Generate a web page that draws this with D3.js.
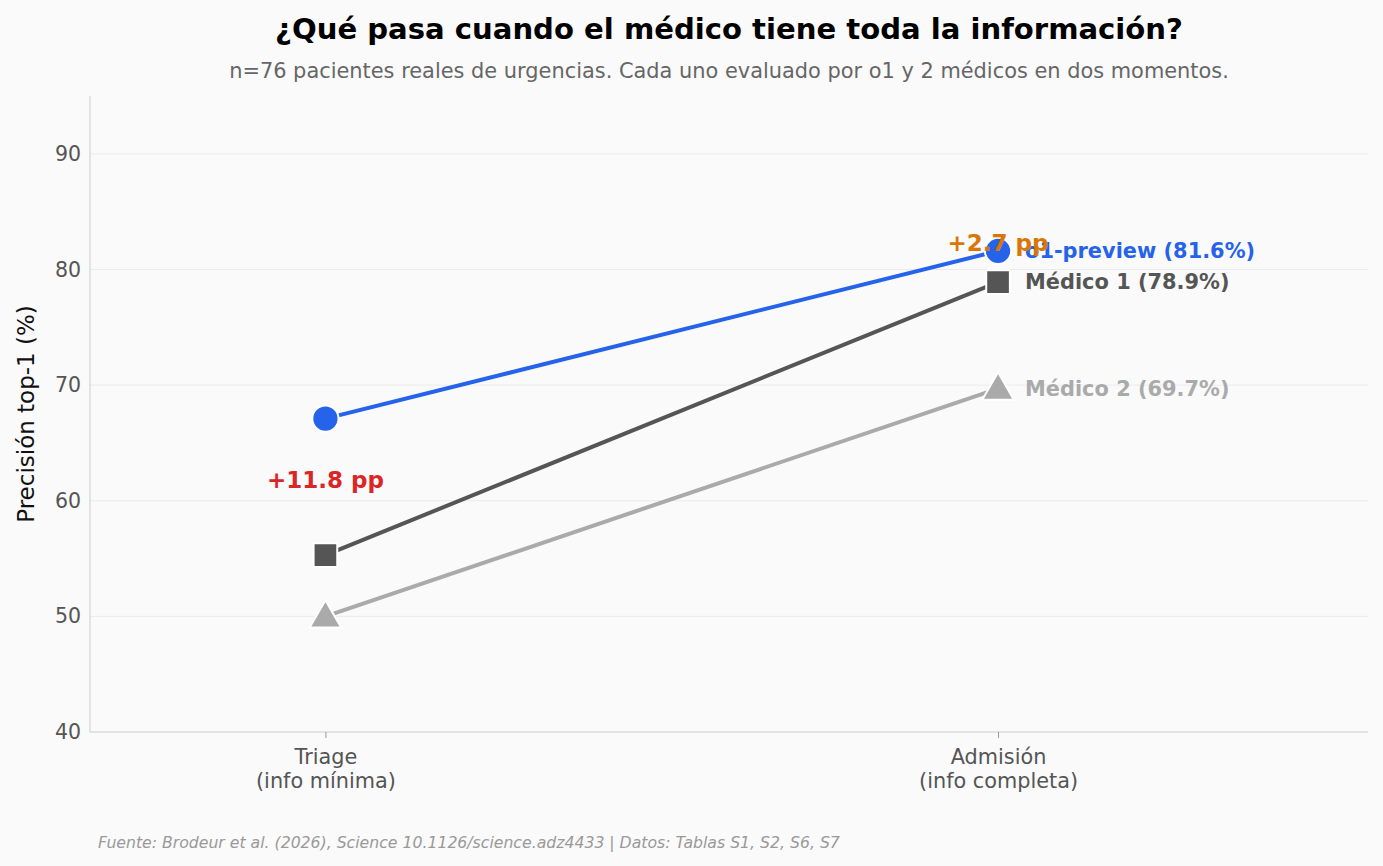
<!DOCTYPE html>
<html><head><meta charset="utf-8">
<script src="https://cdn.jsdelivr.net/npm/d3@7"></script>
<style>
html,body{margin:0;padding:0;background:#fafafa;}
svg{display:block;font-family:"DejaVu Sans",sans-serif;}
</style></head>
<body><svg id="chart" width="1383" height="866"></svg>
<script>
const categories = ["Triage\n(info mínima)", "Admisión\n(info completa)"];
const seriesNames = ["o1-preview", "Médico 1", "Médico 2"];
const o1Values = [67.1, 81.6];
const medico1Values = [55.3, 78.9];
const medico2Values = [50.0, 69.7];
const yTicks = [40, 50, 60, 70, 80, 90];
const gapLabels = ["+11.8 pp", "+2.7 pp"];

const colors = ["#2563eb", "#555555", "#aaaaaa"];
const symbols = [d3.symbolCircle, d3.symbolSquare, d3.symbolTriangle];
const symSizes = [540, 560, 430];
const series = [o1Values, medico1Values, medico2Values];

const svg = d3.select("#chart");
const W = 1383, H = 866;
svg.append("rect").attr("width", W).attr("height", H).attr("fill", "#fafafa");
const m = {left: 90, right: 1368, top: 96, bottom: 732};

const x = d3.scaleLinear().domain([-0.35, 1.55]).range([m.left, m.right]);
const y = d3.scaleLinear().domain([40, 95]).range([m.bottom, m.top]);

// grid
svg.append("g").selectAll("line").data(yTicks.slice(1)).join("line")
  .attr("x1", m.left).attr("x2", m.right)
  .attr("y1", d => y(d)).attr("y2", d => y(d))
  .attr("stroke", "#ebebeb").attr("stroke-width", 1);

// axes
const yAxis = svg.append("g").attr("transform", `translate(${m.left},0)`)
  .call(d3.axisLeft(y).tickValues(yTicks).tickSize(0).tickPadding(9));
yAxis.select(".domain").attr("stroke", "#cccccc").attr("d", `M0,${m.top}V${m.bottom}`);
yAxis.selectAll("text").attr("font-size", 20.5).attr("fill", "#555").attr("font-family", "DejaVu Sans");

const xAxis = svg.append("g").attr("transform", `translate(0,${m.bottom})`)
  .call(d3.axisBottom(x).tickValues([0, 1]).tickSize(6).tickFormat(() => ""));
xAxis.select(".domain").attr("stroke", "#cccccc").attr("d", `M${m.left},0H${m.right}`);
xAxis.selectAll(".tick line").attr("stroke", "#999");
xAxis.selectAll(".tick").each(function(d, i) {
  const t = d3.select(this).append("text").attr("fill", "#555").attr("font-size", 20.8)
    .attr("text-anchor", "middle").attr("font-family", "DejaVu Sans");
  categories[i].split("\n").forEach((ln, j) => {
    t.append("tspan").attr("x", 0).attr("y", 32 + j * 23.5).text(ln);
  });
});

// y label
svg.append("text").attr("transform", `translate(34,${(m.top + m.bottom) / 2}) rotate(-90)`)
  .attr("text-anchor", "middle").attr("font-size", 23).attr("fill", "#111")
  .text("Precisión top-1 (%)");

// lines
const line = d3.line().x((d, i) => x(i)).y(d => y(d));
series.forEach((s, k) => {
  svg.append("path").datum(s).attr("d", line).attr("fill", "none")
    .attr("stroke", colors[k]).attr("stroke-width", 4);
});
// markers
series.forEach((s, k) => {
  svg.append("g").selectAll("path").data(s).join("path")
    .attr("transform", (d, i) => `translate(${x(i)},${y(d) + (k === 2 ? 2 : 0)})`)
    .attr("d", d3.symbol().type(symbols[k]).size(symSizes[k]))
    .attr("fill", colors[k]).attr("stroke", "#fff").attr("stroke-width", 2);
});
// end labels
series.forEach((s, k) => {
  svg.append("text").attr("x", x(1) + 27).attr("y", y(s[1])).attr("dy", "0.35em")
    .attr("font-size", 20.9).attr("font-weight", "bold").attr("fill", colors[k])
    .text(`${seriesNames[k]} (${s[1].toFixed(1)}%)`);
});
// gap annotations
svg.append("text").attr("x", x(0)).attr("y", 480).attr("dy", "0.35em")
  .attr("text-anchor", "middle").attr("font-size", 23).attr("font-weight", "bold")
  .attr("fill", "#dc2626").text(gapLabels[0]);
svg.append("text").attr("x", x(1)).attr("y", 243).attr("dy", "0.35em")
  .attr("text-anchor", "middle").attr("font-size", 23).attr("font-weight", "bold")
  .attr("fill", "#d97706").text(gapLabels[1]);

// titles
svg.append("text").attr("x", 729).attr("y", 39).attr("text-anchor", "middle")
  .attr("font-size", 29.1).attr("font-weight", "bold").attr("fill", "#000")
  .text("¿Qué pasa cuando el médico tiene toda la información?");
svg.append("text").attr("x", 729).attr("y", 78).attr("text-anchor", "middle")
  .attr("font-size", 20.9).attr("fill", "#666")
  .text("n=76 pacientes reales de urgencias. Cada uno evaluado por o1 y 2 médicos en dos momentos.");
svg.append("text").attr("x", 98).attr("y", 848)
  .attr("font-size", 15.7).attr("font-style", "italic").attr("fill", "#999")
  .text("Fuente: Brodeur et al. (2026), Science 10.1126/science.adz4433 | Datos: Tablas S1, S2, S6, S7");
</script></body></html>
